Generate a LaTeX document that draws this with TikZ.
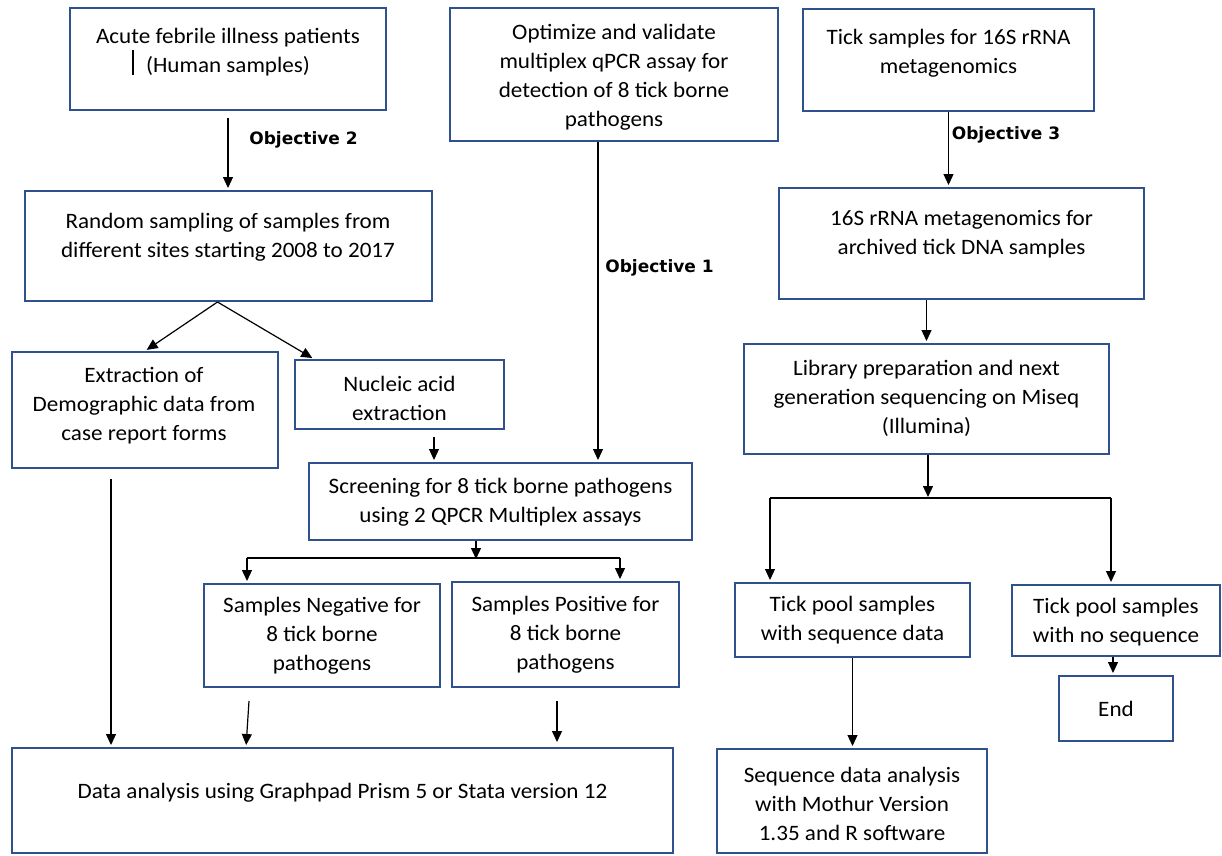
\documentclass[tikz,border=0pt]{standalone}
\usepackage{fontspec}
\setmainfont{Carlito}[FakeStretch=1.05]
\newfontfamily\objfont{DejaVu Sans}
\usetikzlibrary{arrows.meta,calc}
\definecolor{boxblue}{HTML}{2F528F}
\tikzset{
  box/.style={draw=boxblue, line width=2pt, inner sep=0pt, rectangle},
  txt/.style={align=center, inner sep=0pt, font=\fontsize{22}{29}\selectfont},
  obj/.style={inner sep=0pt, font=\objfont\bfseries\fontsize{17}{20}\selectfont},
  arr/.style={line width=1.2pt, -{Triangle[length=11pt,width=10pt]}, shorten >=2pt},
  ln/.style={line width=1.2pt}
}
\begin{document}
\begin{tikzpicture}[x=1pt,y=-1pt]
\fill[white] (0,0) rectangle (1222,855);
\useasboundingbox (0,0) rectangle (1222,855);
% boxes
\node[box, minimum width=316pt, minimum height=102pt] (b1) at (228,59) {};
\node[txt] (t1) at (228,52) {Acute febrile illness patients\\(Human samples)};
\node[box, minimum width=407pt, minimum height=110pt] (b2) at (228.5,246) {};
\node[txt] (t2) at (228,237) {Random sampling of samples from\\different sites starting 2008 to 2017};
\node[box, minimum width=266pt, minimum height=116pt] (bExt) at (145,410) {};
\node[txt] (tExt) at (144,406) {Extraction of\\Demographic data from\\case report forms};
\node[box, minimum width=209pt, minimum height=69pt] (bNuc) at (399.5,394.5) {};
\node[txt] (tNuc) at (399.5,398) {Nucleic acid\\extraction};
\node[box, minimum width=328pt, minimum height=133pt] (bOpt) at (614,74.5) {};
\node[txt] (tOpt) at (614,77) {Optimize and validate\\multiplex qPCR assay for\\detection of 8 tick borne\\pathogens};
\node[box, minimum width=291pt, minimum height=102pt] (bTick) at (948.5,60) {};
\node[txt] (tTick) at (948.5,53) {Tick samples for 16S rRNA\\metagenomics};
\node[box, minimum width=365pt, minimum height=111pt] (b16S) at (961.5,243.5) {};
\node[txt] (t16S) at (961.5,234) {16S rRNA metagenomics for\\archived tick DNA samples};
\node[box, minimum width=365pt, minimum height=110pt] (bLib) at (926.5,399) {};
\node[txt] (tLib) at (926.5,398) {Library preparation and next\\generation sequencing on Miseq\\(Illumina)};
\node[box, minimum width=383pt, minimum height=77pt] (bScr) at (500.5,501.5) {};
\node[txt] (tScr) at (500.5,502) {Screening for 8 tick borne pathogens\\using 2 QPCR Multiplex assays};
\node[box, minimum width=236pt, minimum height=103pt] (bNeg) at (322,635.5) {};
\node[txt] (tNeg) at (322,636) {Samples Negative for\\8 tick borne\\pathogens};
\node[box, minimum width=227pt, minimum height=105pt] (bPos) at (565.5,634.5) {};
\node[txt] (tPos) at (565.5,635) {Samples Positive for\\8 tick borne\\pathogens};
\node[box, minimum width=661pt, minimum height=105pt] (bData) at (342.5,800.5) {};
\node[txt] (tData) at (342.5,793) {Data analysis using Graphpad Prism 5 or Stata version 12};
\node[box, minimum width=235pt, minimum height=74pt] (bSeq) at (852.5,620) {};
\node[txt] (tSeq) at (852.5,620) {Tick pool samples\\with sequence data};
\node[box, minimum width=208pt, minimum height=71pt] (bNo) at (1116,620.5) {};
\node[txt] (tNo) at (1116,622) {Tick pool samples\\with no sequence};
\node[box, minimum width=114pt, minimum height=65pt] (bEnd) at (1116,708.5) {};
\node[txt] (tEnd) at (1116,709) {End};
\node[box, minimum width=270pt, minimum height=104pt] (bSA) at (852,801) {};
\node[txt] (tSA) at (852,804) {Sequence data analysis\\with Mothur Version\\1.35 and R software};
% objective labels
\node[obj] (o2) at (303.5,140) {Objective 2};
\node[obj] (o1) at (659.5,268) {Objective 1};
\node[obj] (o3) at (1006,135) {Objective 3};
% stray mark
\coordinate (m1) at (133,50);
\coordinate (m2) at (133,75);
\draw[line width=1.6pt] (m1) -- (m2);
% connectors
\draw[arr] ([yshift=-7pt]b1.south) -- (b1.south |- b2.north);
\draw[arr] ([xshift=-11pt]b2.south) -- (bExt.north);
\draw[arr] ([xshift=-11pt]b2.south) -- ([xshift=-85.5pt]bNuc.north);
\draw[arr] ([xshift=34.5pt,yshift=-7pt]bNuc.south) -- ([xshift=34.5pt]bNuc.south |- bScr.north);
\draw[arr] ([xshift=-16pt]bOpt.south) -- ([xshift=-16pt]bOpt.south |- bScr.north);
\coordinate (s1) at (476,561);
\coordinate (s1l) at (247,558);
\coordinate (s1r) at (620,558);
\draw[arr] ([xshift=-24.5pt]bScr.south) -- (s1);
\draw[ln] (s1l) -- (s1r);
\draw[arr] (s1l) -- (s1l |- bNeg.north);
\draw[arr] (s1r) -- (s1r |- bPos.north);
\draw[arr] ([xshift=-34pt,yshift=-10pt]bExt.south) -- ([xshift=-34pt]bExt.south |- bData.north);
\draw[arr] ([xshift=-73pt,yshift=-13pt]bNeg.south) -- ([xshift=-76pt]bNeg.south |- bData.north);
\draw[arr] ([xshift=-8.5pt,yshift=-13pt]bPos.south) -- ([xshift=-8.5pt,yshift=3pt]bPos.south |- bData.north);
\draw[arr] (bTick.south) -- (bTick.south |- b16S.north);
\draw[arr] (bLib.north |- b16S.south) -- (bLib.north);
\coordinate (s2) at (928,499);
\coordinate (s2l) at (770,498);
\coordinate (s2r) at (1111,498);
\draw[arr] (bLib.south -| s2) -- (s2);
\draw[ln] (s2l) -- (s2r);
\draw[arr] (s2l) -- (s2l |- bSeq.north);
\draw[arr] (s2r) -- (s2r |- bNo.north);
\draw[arr] (bSeq.south) -- (bSeq.south |- bSA.north);
\draw[arr] ([xshift=-3pt]bNo.south) -- ([xshift=-3pt]bNo.south |- bEnd.north);
\end{tikzpicture}
\end{document}
